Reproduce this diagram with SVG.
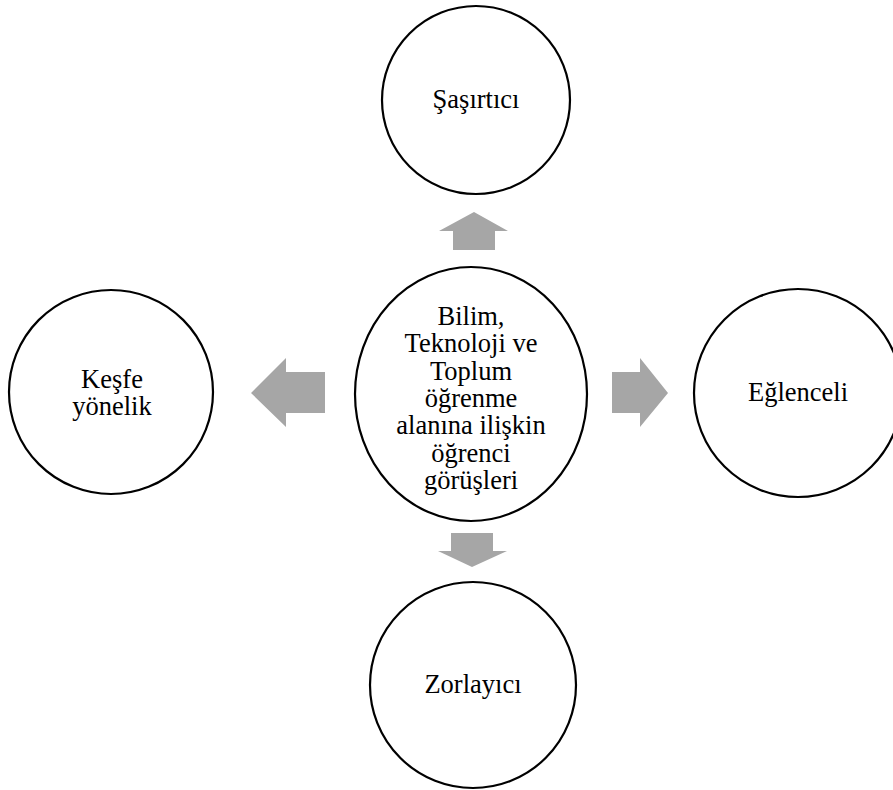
<svg xmlns="http://www.w3.org/2000/svg" width="893" height="790" viewBox="0 0 893 790">
<style>
.node{fill:#ffffff;stroke:#000000;stroke-width:2.2}
.lbl{font-family:"Liberation Serif","Times New Roman",serif;font-size:26.5px;fill:#000000;text-anchor:middle}
.arr{fill:#a6a6a6;stroke:none}
</style>
<rect x="0" y="0" width="893" height="790" fill="#ffffff"/>
<g id="connectors">
<polygon class="arr" points="474,212 508,231 495,231 495,250 453,250 453,231 439,231"/>
<polygon class="arr" points="251,393 286,358 286,372 325,372 325,413 286,413 286,427"/>
<polygon class="arr" points="668,393 640,358 640,372 612,372 612,413 640,413 640,427"/>
<polygon class="arr" points="472,567 507,551 493,551 493,533 451,533 451,551 438,551"/>
</g>
<g id="center">
<ellipse class="node" cx="471" cy="394" rx="116" ry="127"/>
<text class="lbl" x="471" y="325">Bilim,</text>
<text class="lbl" x="471" y="352.3">Teknoloji ve</text>
<text class="lbl" x="471" y="379.6">Toplum</text>
<text class="lbl" x="471" y="406.9">öğrenme</text>
<text class="lbl" x="471" y="434.2">alanına ilişkin</text>
<text class="lbl" x="471" y="461.5">öğrenci</text>
<text class="lbl" x="471" y="488.8">görüşleri</text>
</g>
<g id="sasirtici">
<circle class="node" cx="476" cy="100" r="94"/>
<text class="lbl" x="476" y="108">Şaşırtıcı</text>
</g>
<g id="kesfe">
<circle class="node" cx="111" cy="392" r="102"/>
<text class="lbl" x="112" y="388">Keşfe</text>
<text class="lbl" x="112" y="415">yönelik</text>
</g>
<g id="eglenceli">
<circle class="node" cx="798" cy="393" r="104"/>
<text class="lbl" x="798" y="401">Eğlenceli</text>
</g>
<g id="zorlayici">
<circle class="node" cx="473" cy="685" r="103"/>
<text class="lbl" x="473" y="693">Zorlayıcı</text>
</g>
</svg>
